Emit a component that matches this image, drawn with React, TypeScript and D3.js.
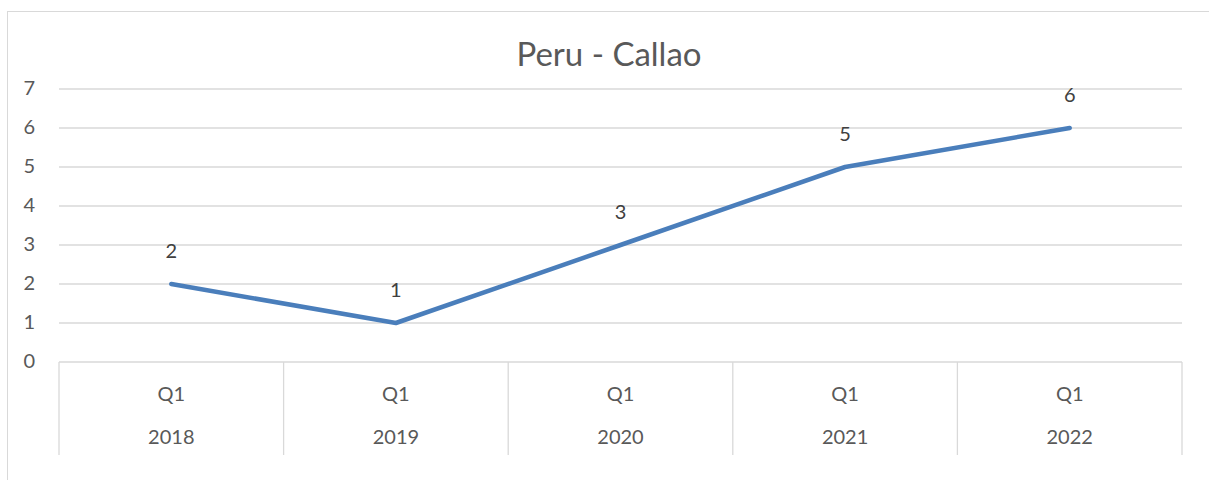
import React from 'react';
import * as d3 from 'd3';

const quarters = ['Q1', 'Q1', 'Q1', 'Q1', 'Q1'];
const years = ['2018', '2019', '2020', '2021', '2022'];
const values = [2, 1, 3, 5, 6];
const yTicks = [0, 1, 2, 3, 4, 5, 6, 7];

const width = 1209;
const height = 480;
const marginLeft = 59;
const marginRight = 27;
const plotTop = 89;
const plotBottom = 362;
const font = 'Lato, "Open Sans", sans-serif';
const textColor = '#595959';
const fs = 20;

const App = () => {
  const x = d3.scaleBand<number>()
    .domain(years.map((_, i) => i))
    .range([marginLeft, width - marginRight]);

  const y = d3.scaleLinear()
    .domain([0, 7])
    .range([plotBottom, plotTop]);

  const cx = (i: number) => (x(i) ?? 0) + x.bandwidth() / 2;

  const line = d3.line<number>()
    .x((_, i) => cx(i))
    .y(d => y(d));

  const edges = years.map((_, i) => x(i) ?? 0).concat([width - marginRight]);

  return (
    <svg width={width} height={height} style={{ position: 'absolute', left: 0, top: 0 }}>
      <rect x={0} y={0} width={width} height={height} fill="#fff" />
      <rect x={7.5} y={11.5} width={width + 10} height={height + 10} fill="none" stroke="#d9d9d9" />
      <text x={609} y={58} textAnchor="middle" dominantBaseline="middle"
        fontFamily={font} fontSize={33} fill={textColor}>Peru - Callao</text>

      {yTicks.map(t => (
        <g key={t}>
          {t > 0 && (
            <line x1={marginLeft} x2={width - marginRight} y1={y(t)} y2={y(t)}
              stroke="#d9d9d9" strokeWidth={1.3} />
          )}
          <text x={35} y={y(t) + 1} textAnchor="end" dominantBaseline="middle"
            fontFamily={font} fontSize={fs} fill={textColor}>{t}</text>
        </g>
      ))}

      {/* category axis */}
      <line x1={marginLeft} x2={width - marginRight} y1={plotBottom} y2={plotBottom}
        stroke="#d9d9d9" strokeWidth={1.3} />
      {edges.map((e, i) => (
        <line key={i} x1={e} x2={e} y1={plotBottom} y2={455} stroke="#d9d9d9" strokeWidth={1.3} />
      ))}
      {years.map((yr, i) => (
        <g key={i}>
          <text x={cx(i)} y={396} textAnchor="middle" dominantBaseline="middle"
            fontFamily={font} fontSize={fs} fill={textColor}>{quarters[i]}</text>
          <text x={cx(i)} y={439} textAnchor="middle" dominantBaseline="middle"
            fontFamily={font} fontSize={fs} fill={textColor}>{yr}</text>
        </g>
      ))}

      <path d={line(values) ?? ''} fill="none" stroke="#4a7ebb" strokeWidth={4.5}
        strokeLinecap="round" strokeLinejoin="round" />

      {values.map((v, i) => (
        <text key={i} x={cx(i)} y={y(v) - 31} textAnchor="middle" dominantBaseline="middle"
          fontFamily={font} fontSize={fs} fill="#404040">{v}</text>
      ))}
    </svg>
  );
};

export default App;
